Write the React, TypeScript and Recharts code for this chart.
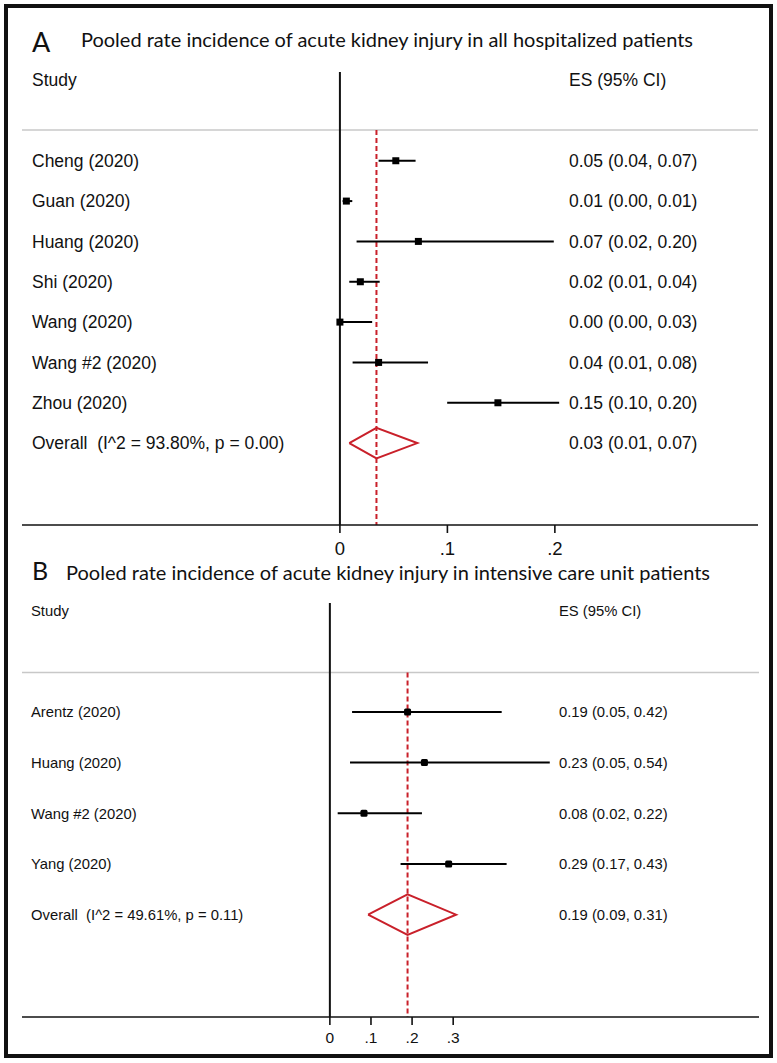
import React from 'react';
import { ComposedChart, Scatter, XAxis, YAxis, ErrorBar, ReferenceLine } from 'recharts';

// Panel A: all hospitalized patients
const studiesA = ['Cheng (2020)', 'Guan (2020)', 'Huang (2020)', 'Shi (2020)', 'Wang (2020)', 'Wang #2 (2020)', 'Zhou (2020)'];
const esA = [0.052, 0.006, 0.073, 0.019, 0.0, 0.036, 0.147];
const loA = [0.036, 0.0025, 0.0155, 0.0087, 0.0, 0.0118, 0.0998];
const hiA = [0.0704, 0.0115, 0.199, 0.037, 0.03, 0.082, 0.204];
const esTextA = ['0.05 (0.04, 0.07)', '0.01 (0.00, 0.01)', '0.07 (0.02, 0.20)', '0.02 (0.01, 0.04)', '0.00 (0.00, 0.03)', '0.04 (0.01, 0.08)', '0.15 (0.10, 0.20)'];
const overallA = [0.0087, 0.034, 0.072]; // lo, es, hi
const overallLabelA = 'Overall  (I^2 = 93.80%, p = 0.00)';
const overallTextA = '0.03 (0.01, 0.07)';
const xTicksA = [0, 0.1, 0.2];
const xTickLabelsA = ['0', '.1', '.2'];

// Panel B: ICU patients
const studiesB = ['Arentz (2020)', 'Huang (2020)', 'Wang #2 (2020)', 'Yang (2020)'];
const esB = [0.189, 0.23, 0.083, 0.289];
const loB = [0.054, 0.049, 0.019, 0.172];
const hiB = [0.418, 0.535, 0.224, 0.43];
const esTextB = ['0.19 (0.05, 0.42)', '0.23 (0.05, 0.54)', '0.08 (0.02, 0.22)', '0.29 (0.17, 0.43)'];
const overallB = [0.093, 0.189, 0.307];
const overallLabelB = 'Overall  (I^2 = 49.61%, p = 0.11)';
const overallTextB = '0.19 (0.09, 0.31)';
const xTicksB = [0, 0.1, 0.2, 0.3];
const xTickLabelsB = ['0', '.1', '.2', '.3'];

const RED = '#c9202a';
const FONT = '"Liberation Sans", Arial, sans-serif';

const ForestPanel = ({ studies, es, lo, hi, esText, overall, overallLabel, overallText, xTicks, xTickLabels, lay }) => {
  const n = studies.length;
  const rows = studies.map((s, i) => ({ x: es[i], y: i, err: [es[i] - lo[i], hi[i] - es[i]] }));
  const h = lay.diamondH;
  const diamond = [
    { x: overall[0], y: n },
    { x: overall[1], y: n - h },
    { x: overall[2], y: n },
    { x: overall[1], y: n + h },
    { x: overall[0], y: n },
  ];
  const yTicks = [-2, ...rows.map((r) => r.y), n];

  const renderYTick = (p) => {
    const v = p.payload.value;
    const left = v === -2 ? 'Study' : v === n ? overallLabel : studies[v];
    const right = v === -2 ? 'ES (95% CI)' : v === n ? overallText : esText[v];
    return (
      <g>
        <text x={lay.labelX} y={p.y} dy="0.36em" fontSize={lay.fontSize} fontFamily={FONT} fill="#111" style={{ whiteSpace: 'pre' }}>
          {left}
        </text>
        <text x={lay.esX} y={p.y} dy="0.36em" fontSize={lay.fontSize} fontFamily={FONT} fill="#111">
          {right}
        </text>
      </g>
    );
  };

  const renderXTick = (p) => (
    <text x={p.x} y={p.y} dy="0.71em" textAnchor="middle" fontSize={lay.tickFontSize} fontFamily={FONT} fill="#111">
      {xTickLabels[xTicks.indexOf(p.payload.value)]}
    </text>
  );

  const s = lay.marker;
  return (
    <div style={{ position: 'absolute', left: 0, top: lay.top }}>
      <ComposedChart width={777} height={lay.height} margin={lay.margin}>
        <XAxis
          type="number"
          dataKey="x"
          domain={lay.xDomain}
          allowDataOverflow
          ticks={xTicks}
          interval={0}
          axisLine={{ stroke: '#111', strokeWidth: 1.6 }}
          tickLine={{ stroke: '#111', strokeWidth: 1.6 }}
          tickSize={8}
          tickMargin={lay.tickMargin}
          tick={renderXTick}
          height={40}
        />
        <YAxis
          type="number"
          dataKey="y"
          domain={lay.yDomain}
          allowDataOverflow
          reversed
          ticks={yTicks}
          interval={0}
          width={1}
          axisLine={false}
          tickLine={false}
          tick={renderYTick}
        />
        <ReferenceLine y={lay.grayY} stroke="#c8c8c8" strokeWidth={1.5} />
        <ReferenceLine x={0} stroke="#111" strokeWidth={2} />
        <ReferenceLine
          segment={[{ x: overall[1], y: lay.grayY }, { x: overall[1], y: lay.yDomain[1] }]}
          stroke={RED}
          strokeWidth={2}
          strokeDasharray="5 3"
        />
        <Scatter
          data={rows}
          isAnimationActive={false}
          shape={(p) => <rect x={p.cx - s / 2} y={p.cy - s / 2} width={s} height={s} rx={lay.rx} fill="#000" />}
        >
          <ErrorBar dataKey="err" direction="x" width={0} stroke="#000" strokeWidth={2} />
        </Scatter>
        <Scatter
          data={diamond}
          isAnimationActive={false}
          line={{ stroke: RED, strokeWidth: 2 }}
          lineType="joint"
          shape={() => <g />}
        />
      </ComposedChart>
    </div>
  );
};

const layA = {
  top: 0,
  height: 570,
  margin: { top: 72, left: 21, right: 19, bottom: 5 },
  xDomain: [-0.2958, 0.389],
  yDomain: [-2.2, 9.03],
  grayY: -0.76,
  diamondH: 0.38,
  fontSize: 17.5,
  tickFontSize: 18.5,
  tickMargin: 9,
  labelX: 32,
  esX: 569,
  marker: 7,
  rx: 0,
};

const layB = {
  top: 560,
  height: 503,
  margin: { top: 43, left: 21, right: 18, bottom: 6 },
  xDomain: [-0.749, 1.044],
  yDomain: [-2.15, 6.02],
  grayY: -0.776,
  diamondH: 0.4,
  fontSize: 14.8,
  tickFontSize: 15.5,
  tickMargin: 7,
  labelX: 31,
  esX: 559,
  marker: 7,
  rx: 1.5,
};

const TITLE_FONT = 'Lato, "Open Sans", sans-serif';

export default function App() {
  return (
    <div style={{ position: 'absolute', left: 0, top: 0, width: 777, height: 1063, background: '#fff' }}>
      <ForestPanel
        studies={studiesA}
        es={esA}
        lo={loA}
        hi={hiA}
        esText={esTextA}
        overall={overallA}
        overallLabel={overallLabelA}
        overallText={overallTextA}
        xTicks={xTicksA}
        xTickLabels={xTickLabelsA}
        lay={layA}
      />
      <ForestPanel
        studies={studiesB}
        es={esB}
        lo={loB}
        hi={hiB}
        esText={esTextB}
        overall={overallB}
        overallLabel={overallLabelB}
        overallText={overallTextB}
        xTicks={xTicksB}
        xTickLabels={xTickLabelsB}
        lay={layB}
      />
      <svg width={777} height={1063} style={{ position: 'absolute', left: 0, top: 0, pointerEvents: 'none' }}>
        <text x={32} y={52} fontSize={27} fontFamily={TITLE_FONT} fill="#111">A</text>
        <text x={81} y={47} fontSize={19} fontFamily={TITLE_FONT} fill="#111" textLength={612} lengthAdjust="spacingAndGlyphs">
          Pooled rate incidence of acute kidney injury in all hospitalized patients
        </text>
        <text x={32} y={580} fontSize={25} fontFamily={TITLE_FONT} fill="#111">B</text>
        <text x={66} y={580} fontSize={19} fontFamily={TITLE_FONT} fill="#111" textLength={644} lengthAdjust="spacingAndGlyphs">
          Pooled rate incidence of acute kidney injury in intensive care unit patients
        </text>
      </svg>
      <div
        style={{
          position: 'absolute',
          left: 4,
          top: 4,
          width: 769,
          height: 1054,
          border: '4px solid #111',
          boxSizing: 'border-box',
          pointerEvents: 'none',
        }}
      />
    </div>
  );
}
